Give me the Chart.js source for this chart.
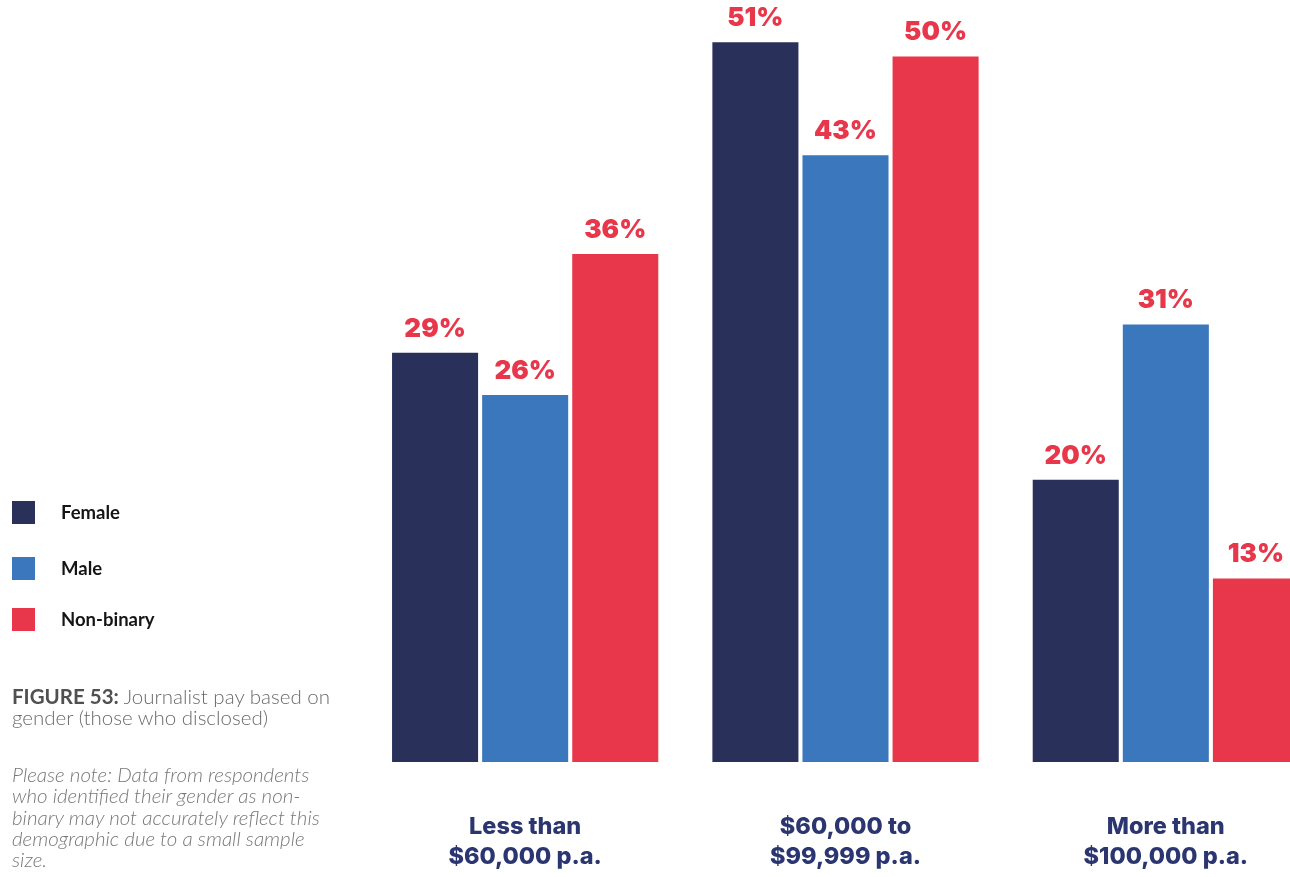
<!DOCTYPE html>
<html>
<head>
<meta charset="utf-8">
<script src="https://cdn.jsdelivr.net/npm/chart.js@4/dist/chart.umd.min.js"></script>
<style>
  html, body { margin: 0; padding: 0; background: #fff; overflow: hidden; }
  body { width: 1290px; height: 877px; position: relative; font-family: Lato, sans-serif; }
  #wrap { position: absolute; left: 0; top: 0; width: 1327px; height: 877px; }
  .legend { position: absolute; left: 12px; top: 0; }
  .legend .item { position: absolute; left: 0; width: 300px; height: 23px; }
  .legend .sw { position: absolute; left: 0; top: 0; width: 23px; height: 23px; }
  .legend .lbl { position: absolute; left: 49px; top: 0; line-height: 23px; font-size: 18.5px; font-weight: 700; color: #151515; white-space: nowrap; }
  .caption { position: absolute; left: 12px; top: 686px; font-size: 20.5px; line-height: 21px; color: #6a6a6a; font-weight: 300; white-space: nowrap; }
  .caption b { font-weight: 700; color: #505050; }
  .note { position: absolute; left: 12px; top: 764px; font-size: 20.5px; line-height: 21.3px; color: #777; font-weight: 300; font-style: italic; white-space: nowrap; }
</style>
</head>
<body>
<div id="wrap"><canvas id="chart"></canvas></div>
<div class="legend" id="legend"></div>
<div class="caption"><b>FIGURE 53:</b> Journalist pay based on<br>gender (those who disclosed)</div>
<div class="note">Please note: Data from respondents<br>who identified their gender as non-<br>binary may not accurately reflect this<br>demographic due to a small sample<br>size.</div>
<script>
const CATEGORIES = [['Less than', '$60,000 p.a.'], ['$60,000 to', '$99,999 p.a.'], ['More than', '$100,000 p.a.']];
const SERIES = ['Female', 'Male', 'Non-binary'];
const FEMALE = [29, 51, 20];
const MALE = [26, 43, 31];
const NON_BINARY = [36, 50, 13];

const COLORS = {
    female: '#29305a',
    male: '#3b77bc',
    nonBinary: '#e8374a',
    label: '#e8374a',
    axis: '#2b3671'
};

// legend in html, positioned like the original
const legendTops = [501, 557, 608];
const legendColors = [COLORS.female, COLORS.male, COLORS.nonBinary];
const legendEl = document.getElementById('legend');
SERIES.forEach((name, i) => {
    const item = document.createElement('div');
    item.className = 'item';
    item.style.top = legendTops[i] + 'px';
    item.innerHTML = `<div class="sw" style="background:${legendColors[i]}"></div><div class="lbl">${name}</div>`;
    legendEl.appendChild(item);
});

// value labels above each bar
const valueLabels = {
    id: 'valueLabels',
    afterDatasetsDraw(chart) {
        const ctx = chart.ctx;
        ctx.save();
        ctx.font = '900 26px Inter, sans-serif';
        ctx.fillStyle = COLORS.label;
        ctx.textAlign = 'center';
        ctx.textBaseline = 'middle';
        chart.data.datasets.forEach((ds, di) => {
            chart.getDatasetMeta(di).data.forEach((bar, i) => {
                ctx.fillText(ds.data[i] + '%', bar.x, bar.y - 24);
            });
        });
        ctx.restore();
    }
};

new Chart(document.getElementById('chart'), {
    type: 'bar',
    data: {
        labels: CATEGORIES,
        datasets: [
            { label: SERIES[0], data: FEMALE, backgroundColor: COLORS.female },
            { label: SERIES[1], data: MALE, backgroundColor: COLORS.male },
            { label: SERIES[2], data: NON_BINARY, backgroundColor: COLORS.nonBinary }
        ]
    },
    options: {
        responsive: true,
        maintainAspectRatio: false,
        animation: false,
        datasets: {
            bar: { categoryPercentage: 0.84375, barPercentage: 0.955 }
        },
        layout: { padding: { left: 365, right: 1, top: 0, bottom: 5 } },
        plugins: {
            legend: { display: false },
            tooltip: { enabled: false }
        },
        scales: {
            x: {
                grid: { display: false, drawTicks: false },
                border: { display: false },
                afterFit(scale) { scale.height = 110; },
                ticks: {
                    color: COLORS.axis,
                    padding: 50,
                    font: { family: 'Inter', size: 23.5, weight: 800, lineHeight: '30px' }
                }
            },
            y: {
                display: false,
                min: 0,
                max: 54
            }
        }
    },
    plugins: [valueLabels]
});
</script>
</body>
</html>
